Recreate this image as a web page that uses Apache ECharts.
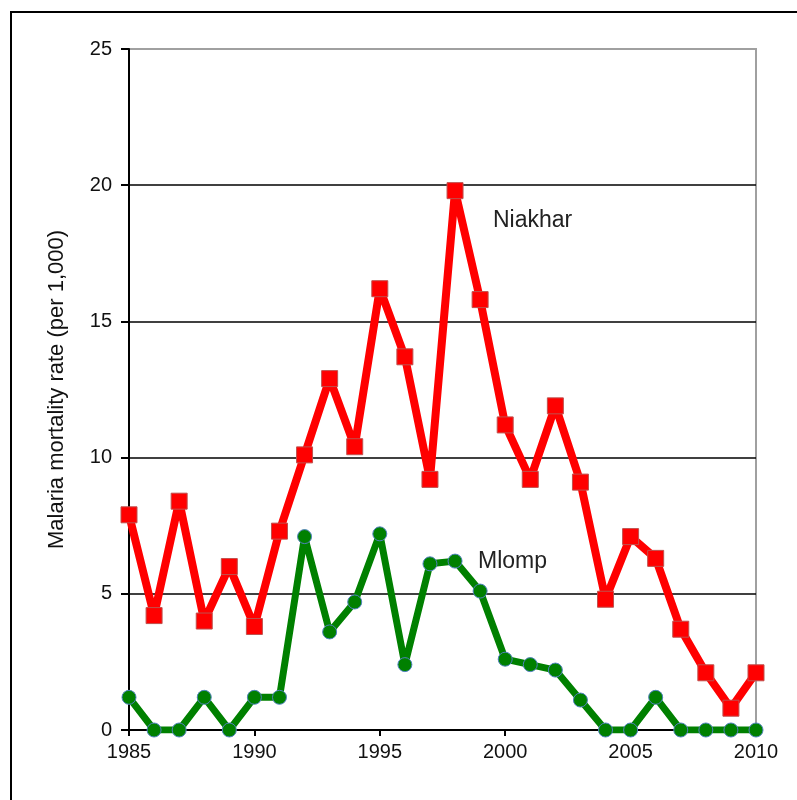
<!DOCTYPE html>
<html>
<head>
<meta charset="utf-8">
<script src="https://cdn.jsdelivr.net/npm/echarts@6/dist/echarts.min.js"></script>
<style>
  html, body { margin: 0; padding: 0; background: #fff; }
  #chart { width: 797px; height: 800px; }
</style>
</head>
<body>
<div id="chart"></div>
<script>
// years 1985..2010
var years = [1985, 1986, 1987, 1988, 1989, 1990, 1991, 1992, 1993, 1994, 1995, 1996, 1997,
  1998, 1999, 2000, 2001, 2002, 2003, 2004, 2005, 2006, 2007, 2008, 2009, 2010];
var niakhar = [7.9, 4.2, 8.4, 4.0, 6.0, 3.8, 7.3, 10.1, 12.9, 10.4, 16.2, 13.7, 9.2,
  19.8, 15.8, 11.2, 9.2, 11.9, 9.1, 4.8, 7.1, 6.3, 3.7, 2.1, 0.8, 2.1];
var mlomp = [1.2, 0, 0, 1.2, 0, 1.2, 1.2, 7.1, 3.6, 4.7, 7.2, 2.4, 6.1,
  6.2, 5.1, 2.6, 2.4, 2.2, 1.1, 0, 0, 1.2, 0, 0, 0, 0];

function pairs(vals) {
  return years.map(function (y, i) { return [y, vals[i]]; });
}

var chart = echarts.init(document.getElementById('chart'));
var labelFont = 'Liberation Sans, Arial, sans-serif';

chart.setOption({
  animation: false,
  grid: {
    left: 129, right: 41, top: 49, bottom: 70,
    show: true,
    borderColor: '#a0a0a0',
    borderWidth: 2
  },
  xAxis: {
    type: 'value',
    min: 1985,
    max: 2010,
    interval: 5,
    axisLine: { show: true, lineStyle: { color: '#000', width: 2 } },
    axisTick: { show: true, length: 6, lineStyle: { color: '#000', width: 2 } },
    axisLabel: {
      color: '#111', fontSize: 20, fontFamily: labelFont, margin: 12,
      formatter: function (v) { return String(v); }
    },
    splitLine: { show: false }
  },
  yAxis: {
    type: 'value',
    min: 0,
    max: 25,
    interval: 5,
    name: 'Malaria mortality rate (per 1,000)',
    nameLocation: 'middle',
    nameRotate: 90,
    nameGap: 61,
    nameTextStyle: { color: '#111', fontSize: 22, fontFamily: labelFont },
    axisLine: { show: true, lineStyle: { color: '#000', width: 2 } },
    axisTick: { show: true, length: 8, lineStyle: { color: '#000', width: 2 } },
    axisLabel: { color: '#111', fontSize: 20, fontFamily: labelFont, margin: 17 },
    splitLine: {
      show: true,
      lineStyle: { color: ['#000', '#000', '#000', '#000', '#000', '#a0a0a0'], width: 1.5 }
    }
  },
  series: [
    {
      name: 'Niakhar',
      type: 'line',
      data: pairs(niakhar),
      symbol: 'rect',
      symbolSize: 16,
      lineStyle: { color: '#ff0000', width: 8 },
      itemStyle: { color: '#ff0000', borderColor: '#c0504d', borderWidth: 1 },
      z: 3
    },
    {
      name: 'Mlomp',
      type: 'line',
      data: pairs(mlomp),
      symbol: 'circle',
      symbolSize: 14,
      lineStyle: { color: '#008000', width: 7 },
      itemStyle: { color: '#008000', borderColor: '#4f81bd', borderWidth: 1 },
      z: 4
    }
  ],
  graphic: [
    // outer frame
    {
      type: 'rect',
      shape: { x: 11, y: 12, width: 800, height: 800 },
      style: { fill: null, stroke: '#000', lineWidth: 2 },
      z: -1
    },
    {
      type: 'text',
      style: { x: 493, y: 221, text: 'Niakhar', fill: '#222', fontSize: 23, fontFamily: labelFont, verticalAlign: 'middle' }
    },
    {
      type: 'text',
      style: { x: 478, y: 562, text: 'Mlomp', fill: '#222', fontSize: 23, fontFamily: labelFont, verticalAlign: 'middle' }
    }
  ]
});
</script>
</body>
</html>
